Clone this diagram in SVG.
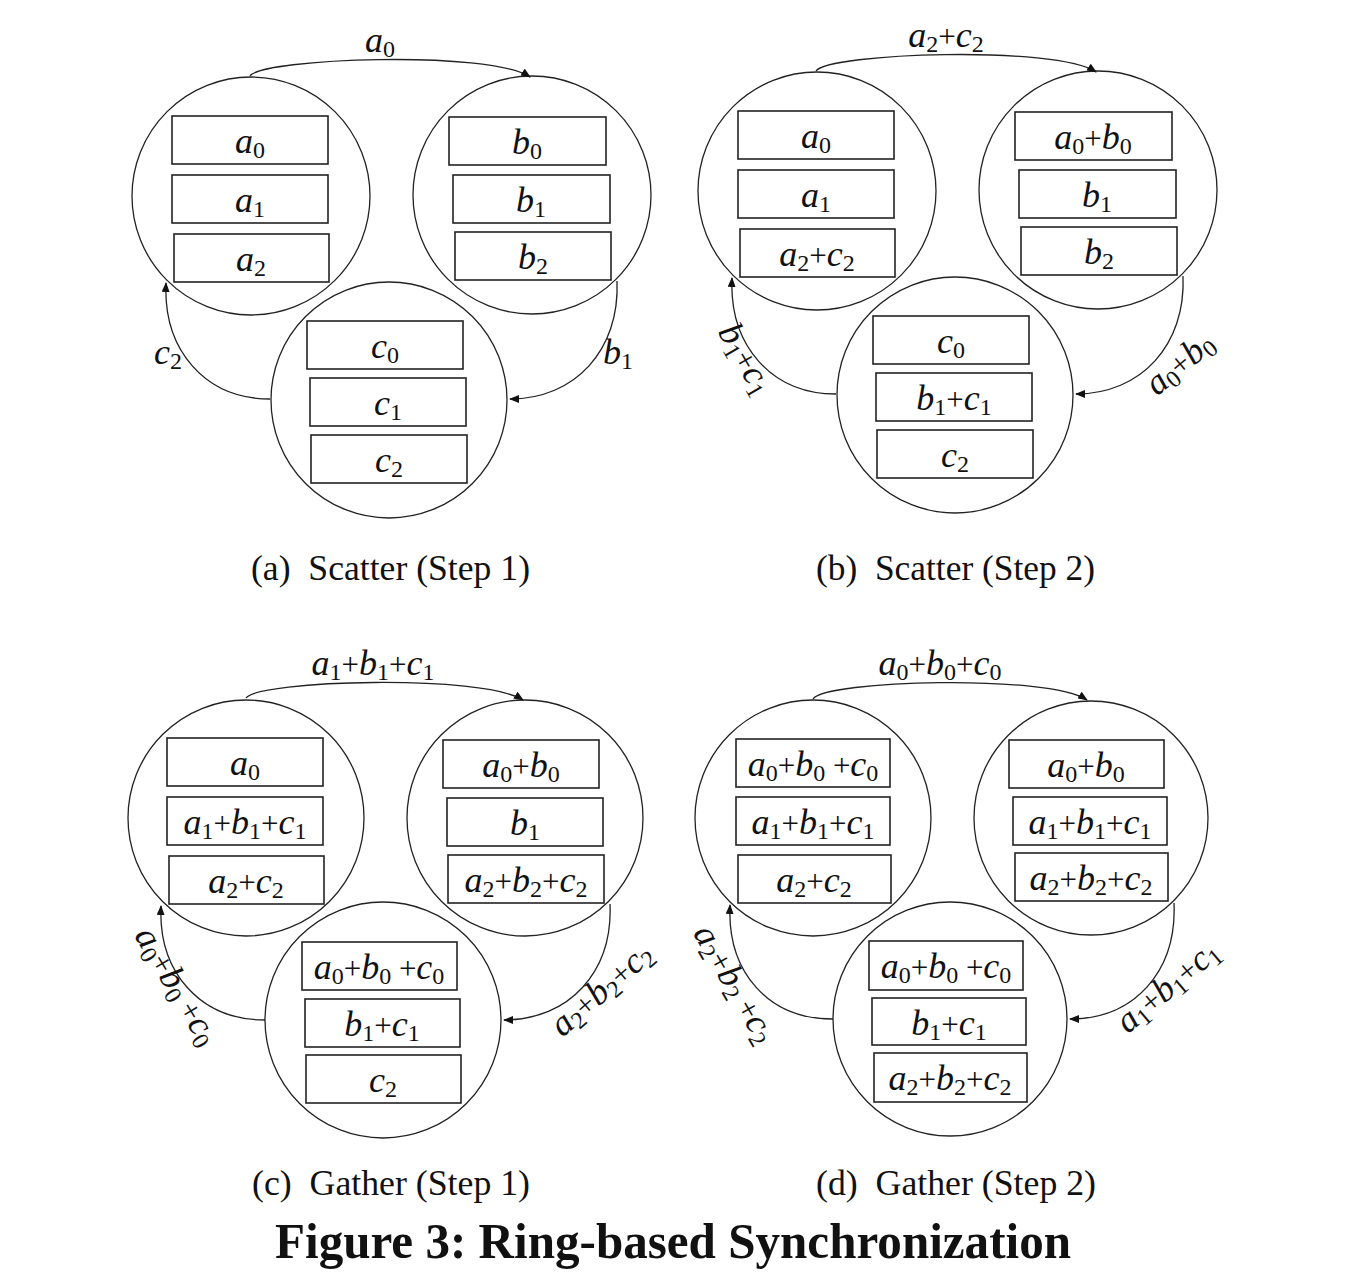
<svg xmlns="http://www.w3.org/2000/svg" width="1360" height="1276" viewBox="0 0 1360 1276">
<style>
.bg{fill:#fff}
.c{fill:none;stroke:#222;stroke-width:1.3}
.b{fill:none;stroke:#222;stroke-width:1.6}
.e{fill:none;stroke:#222;stroke-width:1.3;marker-end:url(#ah)}
.m{font-family:"Liberation Serif",serif;font-style:italic;font-size:36px;fill:#111;text-anchor:middle}
.s{font-style:normal;font-size:24px}
.p{font-style:normal;font-size:31px}
.cap{font-family:"Liberation Serif",serif;font-size:36px;fill:#111}
.ttl{font-family:"Liberation Serif",serif;font-size:50px;font-weight:bold;fill:#111}
</style>
<defs>
<marker id="ah" markerWidth="10" markerHeight="8" refX="9" refY="4" orient="auto" markerUnits="userSpaceOnUse"><path d="M0,0 L10,4 L0,8 z" fill="#111"/></marker>
</defs>
<rect class="bg" x="0" y="0" width="1360" height="1276"/>

<!-- Panel (a) -->
<g id="panel-a">
<g id="a-nodeA"><circle class="c" cx="251" cy="196" r="119"/>
<g id="a-A0"><rect class="b" x="172" y="116" width="156" height="48"/><text class="m" x="250" y="153">a<tspan class="s" dy="5">0</tspan></text></g>
<g id="a-A1"><rect class="b" x="172" y="175" width="156" height="48"/><text class="m" x="250" y="212">a<tspan class="s" dy="5">1</tspan></text></g>
<g id="a-A2"><rect class="b" x="174" y="234" width="155" height="48"/><text class="m" x="251" y="271">a<tspan class="s" dy="5">2</tspan></text></g>
</g>
<g id="a-nodeB"><circle class="c" cx="532" cy="195" r="119"/>
<g id="a-B0"><rect class="b" x="449" y="117" width="157" height="48"/><text class="m" x="527" y="154">b<tspan class="s" dy="5">0</tspan></text></g>
<g id="a-B1"><rect class="b" x="453" y="175" width="157" height="48"/><text class="m" x="531" y="212">b<tspan class="s" dy="5">1</tspan></text></g>
<g id="a-B2"><rect class="b" x="455" y="232" width="156" height="48"/><text class="m" x="533" y="269">b<tspan class="s" dy="5">2</tspan></text></g>
</g>
<g id="a-nodeC"><circle class="c" cx="389" cy="400" r="118"/>
<g id="a-C0"><rect class="b" x="307" y="321" width="156" height="48"/><text class="m" x="385" y="358">c<tspan class="s" dy="5">0</tspan></text></g>
<g id="a-C1"><rect class="b" x="310" y="378" width="156" height="48"/><text class="m" x="388" y="415">c<tspan class="s" dy="5">1</tspan></text></g>
<g id="a-C2"><rect class="b" x="311" y="435" width="156" height="48"/><text class="m" x="389" y="472">c<tspan class="s" dy="5">2</tspan></text></g>
</g>
<g id="a-edges">
<path class="e" d="M250,76 C262,58 490,50 530,77"/>
<path class="e" d="M617,281 C620,350 575,399 510,399"/>
<path class="e" d="M270,399 C205,399 163,350 166,283"/>
<text class="m" x="380" y="52">a<tspan class="s" dy="5">0</tspan></text>
<text class="m" x="168" y="364">c<tspan class="s" dy="5">2</tspan></text>
<text class="m" x="618" y="364">b<tspan class="s" dy="5">1</tspan></text>
</g>
</g>

<!-- Panel (b) -->
<g id="panel-b" transform="translate(566,-5)">
<g id="b-nodeA"><circle class="c" cx="251" cy="196" r="119"/>
<g id="b-A0"><rect class="b" x="172" y="116" width="156" height="48"/><text class="m" x="250" y="153">a<tspan class="s" dy="5">0</tspan></text></g>
<g id="b-A1"><rect class="b" x="172" y="175" width="156" height="48"/><text class="m" x="250" y="212">a<tspan class="s" dy="5">1</tspan></text></g>
<g id="b-A2"><rect class="b" x="174" y="234" width="155" height="48"/><text class="m" x="251" y="271">a<tspan class="s" dy="5">2</tspan><tspan class="p" dy="-5">+</tspan>c<tspan class="s" dy="5">2</tspan></text></g>
</g>
<g id="b-nodeB"><circle class="c" cx="532" cy="195" r="119"/>
<g id="b-B0"><rect class="b" x="449" y="117" width="157" height="48"/><text class="m" x="527" y="154">a<tspan class="s" dy="5">0</tspan><tspan class="p" dy="-5">+</tspan>b<tspan class="s" dy="5">0</tspan></text></g>
<g id="b-B1"><rect class="b" x="453" y="175" width="157" height="48"/><text class="m" x="531" y="212">b<tspan class="s" dy="5">1</tspan></text></g>
<g id="b-B2"><rect class="b" x="455" y="232" width="156" height="48"/><text class="m" x="533" y="269">b<tspan class="s" dy="5">2</tspan></text></g>
</g>
<g id="b-nodeC"><circle class="c" cx="389" cy="400" r="118"/>
<g id="b-C0"><rect class="b" x="307" y="321" width="156" height="48"/><text class="m" x="385" y="358">c<tspan class="s" dy="5">0</tspan></text></g>
<g id="b-C1"><rect class="b" x="310" y="378" width="156" height="48"/><text class="m" x="388" y="415">b<tspan class="s" dy="5">1</tspan><tspan class="p" dy="-5">+</tspan>c<tspan class="s" dy="5">1</tspan></text></g>
<g id="b-C2"><rect class="b" x="311" y="435" width="156" height="48"/><text class="m" x="389" y="472">c<tspan class="s" dy="5">2</tspan></text></g>
</g>
<g id="b-edges">
<path class="e" d="M250,76 C262,58 490,50 530,77"/>
<path class="e" d="M617,281 C620,350 575,399 510,399"/>
<path class="e" d="M270,399 C205,399 163,350 166,283"/>
<text class="m" x="380" y="52">a<tspan class="s" dy="5">2</tspan><tspan class="p" dy="-5">+</tspan>c<tspan class="s" dy="5">2</tspan></text>
<text class="m" transform="translate(178,365) rotate(60)" x="0" y="9">b<tspan class="s" dy="5">1</tspan><tspan class="p" dy="-5">+</tspan>c<tspan class="s" dy="5">1</tspan></text>
<text class="m" transform="translate(615,370) rotate(-40)" x="0" y="9">a<tspan class="s" dy="5">0</tspan><tspan class="p" dy="-5">+</tspan>b<tspan class="s" dy="5">0</tspan></text>
</g>
</g>

<!-- Panel (c) -->
<g id="panel-c" transform="translate(-5,622)">
<g id="c-nodeA"><circle class="c" cx="251" cy="196" r="118"/>
<g id="c-A0"><rect class="b" x="172" y="116" width="156" height="48"/><text class="m" x="250" y="153">a<tspan class="s" dy="5">0</tspan></text></g>
<g id="c-A1"><rect class="b" x="172" y="175" width="156" height="48"/><text class="m" x="250" y="212">a<tspan class="s" dy="5">1</tspan><tspan class="p" dy="-5">+</tspan>b<tspan class="s" dy="5">1</tspan><tspan class="p" dy="-5">+</tspan>c<tspan class="s" dy="5">1</tspan></text></g>
<g id="c-A2"><rect class="b" x="174" y="234" width="155" height="48"/><text class="m" x="251" y="271">a<tspan class="s" dy="5">2</tspan><tspan class="p" dy="-5">+</tspan>c<tspan class="s" dy="5">2</tspan></text></g>
</g>
<g id="c-nodeB"><circle class="c" cx="530" cy="196" r="118"/>
<g id="c-B0"><rect class="b" x="448" y="118" width="156" height="48"/><text class="m" x="526" y="155">a<tspan class="s" dy="5">0</tspan><tspan class="p" dy="-5">+</tspan>b<tspan class="s" dy="5">0</tspan></text></g>
<g id="c-B1"><rect class="b" x="452" y="176" width="156" height="48"/><text class="m" x="530" y="213">b<tspan class="s" dy="5">1</tspan></text></g>
<g id="c-B2"><rect class="b" x="453" y="233" width="156" height="48"/><text class="m" x="531" y="270">a<tspan class="s" dy="5">2</tspan><tspan class="p" dy="-5">+</tspan>b<tspan class="s" dy="5">2</tspan><tspan class="p" dy="-5">+</tspan>c<tspan class="s" dy="5">2</tspan></text></g>
</g>
<g id="c-nodeC"><circle class="c" cx="388" cy="398" r="118"/>
<g id="c-C0"><rect class="b" x="307" y="320" width="155" height="48"/><text class="m" x="384" y="357">a<tspan class="s" dy="5">0</tspan><tspan class="p" dy="-5">+</tspan>b<tspan class="s" dy="5">0</tspan><tspan class="p" dy="-5"> +</tspan>c<tspan class="s" dy="5">0</tspan></text></g>
<g id="c-C1"><rect class="b" x="310" y="377" width="155" height="48"/><text class="m" x="387" y="414">b<tspan class="s" dy="5">1</tspan><tspan class="p" dy="-5">+</tspan>c<tspan class="s" dy="5">1</tspan></text></g>
<g id="c-C2"><rect class="b" x="311" y="433" width="155" height="48"/><text class="m" x="388" y="470">c<tspan class="s" dy="5">2</tspan></text></g>
</g>
<g id="c-edges">
<path class="e" d="M251,76 C263,58 488,52 528,78"/>
<path class="e" d="M615,282 C618,350 574,398 509,398"/>
<path class="e" d="M270,398 C205,398 163,350 166,284"/>
<text class="m" x="378" y="53">a<tspan class="s" dy="5">1</tspan><tspan class="p" dy="-5">+</tspan>b<tspan class="s" dy="5">1</tspan><tspan class="p" dy="-5">+</tspan>c<tspan class="s" dy="5">1</tspan></text>
<text class="m" transform="translate(180,365) rotate(59)" x="0" y="9">a<tspan class="s" dy="5">0</tspan><tspan class="p" dy="-5">+</tspan>b<tspan class="s" dy="5">0</tspan><tspan class="p" dy="-5"> +</tspan>c<tspan class="s" dy="5">0</tspan></text>
<text class="m" transform="translate(608,369) rotate(-41)" x="0" y="9">a<tspan class="s" dy="5">2</tspan><tspan class="p" dy="-5">+</tspan>b<tspan class="s" dy="5">2</tspan><tspan class="p" dy="-5">+</tspan>c<tspan class="s" dy="5">2</tspan></text>
</g>
</g>

<!-- Panel (d) -->
<g id="panel-d" transform="translate(562,622)">
<g id="d-nodeA"><circle class="c" cx="251" cy="196" r="118"/>
<g id="d-A0"><rect class="b" x="174" y="117" width="154" height="48"/><text class="m" x="251" y="154">a<tspan class="s" dy="5">0</tspan><tspan class="p" dy="-5">+</tspan>b<tspan class="s" dy="5">0</tspan><tspan class="p" dy="-5"> +</tspan>c<tspan class="s" dy="5">0</tspan></text></g>
<g id="d-A1"><rect class="b" x="174" y="175" width="154" height="48"/><text class="m" x="251" y="212">a<tspan class="s" dy="5">1</tspan><tspan class="p" dy="-5">+</tspan>b<tspan class="s" dy="5">1</tspan><tspan class="p" dy="-5">+</tspan>c<tspan class="s" dy="5">1</tspan></text></g>
<g id="d-A2"><rect class="b" x="176" y="233" width="153" height="48"/><text class="m" x="252" y="270">a<tspan class="s" dy="5">2</tspan><tspan class="p" dy="-5">+</tspan>c<tspan class="s" dy="5">2</tspan></text></g>
</g>
<g id="d-nodeB"><circle class="c" cx="529" cy="196" r="117"/>
<g id="d-B0"><rect class="b" x="447" y="118" width="155" height="48"/><text class="m" x="524" y="155">a<tspan class="s" dy="5">0</tspan><tspan class="p" dy="-5">+</tspan>b<tspan class="s" dy="5">0</tspan></text></g>
<g id="d-B1"><rect class="b" x="451" y="175" width="154" height="48"/><text class="m" x="528" y="212">a<tspan class="s" dy="5">1</tspan><tspan class="p" dy="-5">+</tspan>b<tspan class="s" dy="5">1</tspan><tspan class="p" dy="-5">+</tspan>c<tspan class="s" dy="5">1</tspan></text></g>
<g id="d-B2"><rect class="b" x="453" y="231" width="153" height="48"/><text class="m" x="529" y="268">a<tspan class="s" dy="5">2</tspan><tspan class="p" dy="-5">+</tspan>b<tspan class="s" dy="5">2</tspan><tspan class="p" dy="-5">+</tspan>c<tspan class="s" dy="5">2</tspan></text></g>
</g>
<g id="d-nodeC"><circle class="c" cx="388" cy="397" r="117"/>
<g id="d-C0"><rect class="b" x="307" y="319" width="154" height="49"/><text class="m" x="384" y="356">a<tspan class="s" dy="5">0</tspan><tspan class="p" dy="-5">+</tspan>b<tspan class="s" dy="5">0</tspan><tspan class="p" dy="-5"> +</tspan>c<tspan class="s" dy="5">0</tspan></text></g>
<g id="d-C1"><rect class="b" x="310" y="376" width="154" height="47"/><text class="m" x="387" y="413">b<tspan class="s" dy="5">1</tspan><tspan class="p" dy="-5">+</tspan>c<tspan class="s" dy="5">1</tspan></text></g>
<g id="d-C2"><rect class="b" x="312" y="431" width="153" height="49"/><text class="m" x="388" y="468">a<tspan class="s" dy="5">2</tspan><tspan class="p" dy="-5">+</tspan>b<tspan class="s" dy="5">2</tspan><tspan class="p" dy="-5">+</tspan>c<tspan class="s" dy="5">2</tspan></text></g>
</g>
<g id="d-edges">
<path class="e" d="M251,77 C263,58 486,52 525,78"/>
<path class="e" d="M612,281 C615,350 572,397 508,397"/>
<path class="e" d="M271,397 C206,397 165,350 168,283"/>
<text class="m" x="378" y="53">a<tspan class="s" dy="5">0</tspan><tspan class="p" dy="-5">+</tspan>b<tspan class="s" dy="5">0</tspan><tspan class="p" dy="-5">+</tspan>c<tspan class="s" dy="5">0</tspan></text>
<text class="m" transform="translate(171,363) rotate(60)" x="0" y="9">a<tspan class="s" dy="5">2</tspan><tspan class="p" dy="-5">+</tspan>b<tspan class="s" dy="5">2</tspan><tspan class="p" dy="-5"> +</tspan>c<tspan class="s" dy="5">2</tspan></text>
<text class="m" transform="translate(607,366) rotate(-40)" x="0" y="9">a<tspan class="s" dy="5">1</tspan><tspan class="p" dy="-5">+</tspan>b<tspan class="s" dy="5">1</tspan><tspan class="p" dy="-5">+</tspan>c<tspan class="s" dy="5">1</tspan></text>
</g>
</g>

<!-- Captions -->
<g id="captions">
<text class="cap" x="251" y="580" textLength="279" lengthAdjust="spacingAndGlyphs" xml:space="preserve">(a)  Scatter (Step 1)</text>
<text class="cap" x="816" y="580" textLength="279" lengthAdjust="spacingAndGlyphs" xml:space="preserve">(b)  Scatter (Step 2)</text>
<text class="cap" x="252" y="1195" textLength="278" lengthAdjust="spacingAndGlyphs" xml:space="preserve">(c)  Gather (Step 1)</text>
<text class="cap" x="816" y="1195" textLength="280" lengthAdjust="spacingAndGlyphs" xml:space="preserve">(d)  Gather (Step 2)</text>
<text class="ttl" x="275" y="1258" textLength="796" lengthAdjust="spacingAndGlyphs">Figure 3: Ring-based Synchronization</text>
</g>
</svg>
